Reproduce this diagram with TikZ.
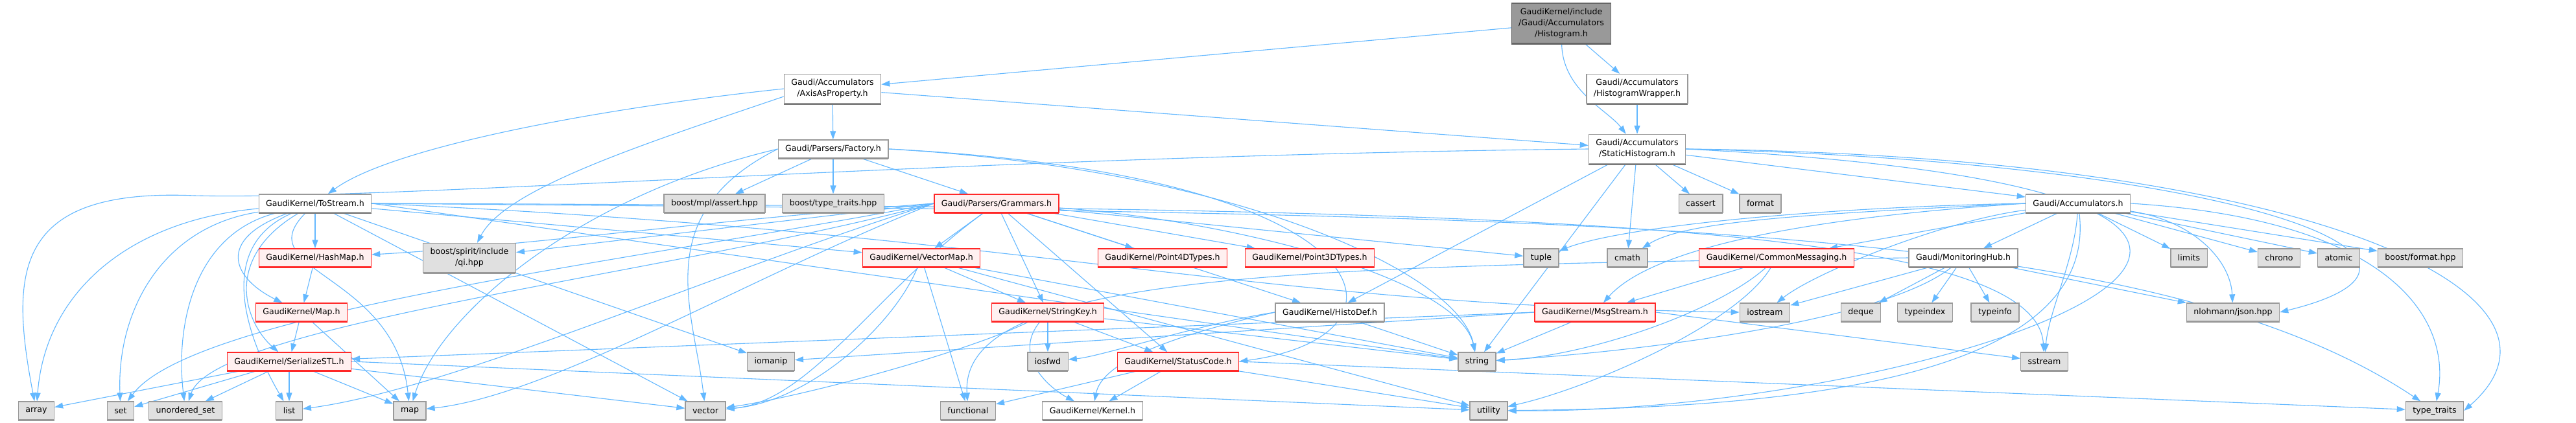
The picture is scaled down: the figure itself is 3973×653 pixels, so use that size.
\documentclass[tikz,border=0pt]{standalone}
\usepackage{fontspec}
\setmainfont{DejaVu Sans}
\usetikzlibrary{arrows.meta,shadows,backgrounds}
\definecolor{edgeblue}{RGB}{99,184,255}
\definecolor{redline}{RGB}{255,40,40}
\definecolor{redfill}{RGB}{255,240,240}
\definecolor{sysfill}{RGB}{224,224,224}
\definecolor{sysline}{RGB}{153,153,153}
\definecolor{docshade}{RGB}{120,120,120}
\definecolor{rootfill}{RGB}{153,153,153}
\definecolor{rootline}{RGB}{102,102,102}
\tikzset{
  hdr/.style={line width=1.3pt, inner xsep=11pt, inner ysep=2pt, minimum height=28pt,
    align=center, font=\fontsize{12.6pt}{17pt}\selectfont},
  doc/.style={hdr, draw=sysline, fill=white,
    drop shadow={shadow xshift=0pt, shadow yshift=-2pt, fill=docshade, opacity=1}},
  trunc/.style={hdr, draw=redline, fill=redfill,
    drop shadow={shadow xshift=0pt, shadow yshift=-2pt, fill=redline, opacity=1}},
  sys/.style={hdr, draw=sysline, fill=sysfill,
    drop shadow={shadow xshift=0pt, shadow yshift=-2pt, fill=sysline, opacity=1}},
  root/.style={hdr, draw=rootline, fill=rootfill,
    drop shadow={shadow xshift=0pt, shadow yshift=-2pt, fill=rootline, opacity=1}},
  two/.style={minimum height=45pt},
  three/.style={minimum height=62pt},
  inc/.style={->, draw=edgeblue, line width=1.1pt}
}
\begin{document}
\begin{tikzpicture}[x=1pt, y=-1pt, >={Triangle[length=13pt,width=9pt]}]
  \useasboundingbox (0,0) rectangle (3973,653);
  % level 0 and 1
  \node[root,three] (hist) at (2408,36) {GaudiKernel/include\\/Gaudi/Accumulators\\/Histogram.h};
  \node[doc,two] (axis) at (1284,137) {Gaudi/Accumulators\\/AxisAsProperty.h};
  \node[doc,two] (wrap) at (2525,137) {Gaudi/Accumulators\\/HistogramWrapper.h};
  \node[doc,two] (stat) at (2525,230) {Gaudi/Accumulators\\/StaticHistogram.h};
  \node[doc] (factory) at (1285,230) {Gaudi/Parsers/Factory.h};
  % level 3
  \node[doc] (tostream) at (486,314) {GaudiKernel/ToStream.h};
  \node[sys] (mplassert) at (1102,314) {boost/mpl/assert.hpp};
  \node[sys] (btypetr) at (1285,314) {boost/type\_traits.hpp};
  \node[trunc] (grammars) at (1537,314) {Gaudi/Parsers/Grammars.h};
  \node[sys] (cassert) at (2623,314) {cassert};
  \node[sys] (format) at (2715,314) {format};
  \node[doc] (accum) at (3205,314) {Gaudi/Accumulators.h};
  % level 4
  \node[trunc] (hashmap) at (486,398) {GaudiKernel/HashMap.h};
  \node[sys,two] (qi) at (724,398) {boost/spirit/include\\/qi.hpp};
  \node[trunc] (vecmap) at (1421,398) {GaudiKernel/VectorMap.h};
  \node[trunc] (p4d) at (1793,398) {GaudiKernel/Point4DTypes.h};
  \node[trunc] (p3d) at (2020,398) {GaudiKernel/Point3DTypes.h};
  \node[sys] (tuple) at (2377,398) {tuple};
  \node[sys] (cmath) at (2510,398) {cmath};
  \node[trunc] (commsg) at (2740,398) {GaudiKernel/CommonMessaging.h};
  \node[doc] (monhub) at (3028,398) {Gaudi/MonitoringHub.h};
  \node[sys] (limits) at (3376,398) {limits};
  \node[sys] (chrono) at (3515,398) {chrono};
  \node[sys] (atomic) at (3607,398) {atomic};
  \node[sys] (bformat) at (3733,398) {boost/format.hpp};
  % level 5
  \node[trunc] (mapH) at (465,482) {GaudiKernel/Map.h};
  \node[trunc] (strkey) at (1616,482) {GaudiKernel/StringKey.h};
  \node[doc] (histodef) at (2051,482) {GaudiKernel/HistoDef.h};
  \node[trunc] (msgstream) at (2460,482) {GaudiKernel/MsgStream.h};
  \node[sys] (iostream) at (2722,482) {iostream};
  \node[sys] (deque) at (2870,482) {deque};
  \node[sys] (typeindex) at (2969,482) {typeindex};
  \node[sys] (typeinfo) at (3077,482) {typeinfo};
  \node[sys] (json) at (3444,482) {nlohmann/json.hpp};
  % level 6
  \node[trunc] (serial) at (446,558) {GaudiKernel/SerializeSTL.h};
  \node[sys] (iomanip) at (1189,558) {iomanip};
  \node[sys] (iosfwd) at (1616,558) {iosfwd};
  \node[trunc] (statuscode) at (1817,558) {GaudiKernel/StatusCode.h};
  \node[sys] (string) at (2278,558) {string};
  \node[sys] (sstream) at (3153,558) {sstream};
  % level 7
  \node[sys] (array) at (56,634) {array};
  \node[sys] (set) at (186,634) {set};
  \node[sys] (uset) at (286,634) {unordered\_set};
  \node[sys] (list) at (446,634) {list};
  \node[sys] (map) at (632,634) {map};
  \node[sys] (vector) at (1088,634) {vector};
  \node[sys] (functional) at (1493,634) {functional};
  \node[doc] (kernel) at (1685,634) {GaudiKernel/Kernel.h};
  \node[sys] (utility) at (2296,634) {utility};
  \node[sys] (typetraits) at (3755,634) {type\_traits};

  \begin{pgfonlayer}{background}
    \fill[white] (0,0) rectangle (3973,653);
    % Histogram.h
    \draw[inc] (hist) -- (axis);
    \draw[inc] (hist) -- (wrap);
    \draw[inc] (hist) .. controls (2410,140) and (2480,170) .. (stat);
    \draw[inc] (wrap) -- (stat);
    % AxisAsProperty.h
    \draw[inc] (axis) -- (stat);
    \draw[inc] (axis) -- (factory);
    \draw[inc] (axis.west) .. controls (900,170) and (600,230) .. (tostream);
    \draw[inc] ([yshift=-12pt]axis.west) .. controls (1000,220) and (780,290) .. (qi);
    % Factory.h
    \draw[inc] (factory) -- (mplassert);
    \draw[inc] (factory) -- (btypetr);
    \draw[inc] (factory) -- (grammars);
    \draw[inc] (factory.east) .. controls (2150,270) and (2200,520) .. (statuscode.east);
    \draw[inc] (factory.east) .. controls (1900,260) and (2250,420) .. (string);
    \draw[inc] (factory.west) .. controls (900,300) and (680,480) .. (map);
    \draw[inc] (factory.west) .. controls (1000,330) and (1070,480) .. (vector);
    % ToStream.h
    \draw[inc] (tostream) -- (hashmap);
    \draw[inc] (tostream) .. controls (330,370) and (360,430) .. (mapH);
    \draw[inc] (tostream) .. controls (340,400) and (380,500) .. (serial);
    \draw[inc] (tostream) .. controls (200,340) and (70,450) .. (array);
    \draw[inc] (tostream) .. controls (250,350) and (180,480) .. (set);
    \draw[inc] (tostream) .. controls (300,360) and (270,500) .. (uset);
    \draw[inc] (tostream) .. controls (330,380) and (380,520) .. (list);
    \draw[inc] (tostream) .. controls (380,420) and (610,420) .. (map);
    \draw[inc] (tostream) -- (vector);
    \draw[inc] (tostream) -- (iomanip);
    \draw[inc] (tostream) -- (vecmap);
    \draw[inc] (tostream.east) -- (string);
    \draw[inc] (tostream.east) .. controls (1600,360) and (1900,470) .. (iostream.west);
    \draw[inc] (tostream.east) .. controls (2200,320) and (3140,330) .. (sstream);
    \draw[inc] (tostream.east) .. controls (2400,330) and (3300,330) .. (typetraits);
    % Grammars.h
    \draw[inc] (grammars) -- (vecmap);
    \draw[inc] (grammars) -- (strkey);
    \draw[inc] (grammars) -- (statuscode);
    \draw[inc] (grammars) -- (p4d);
    \draw[inc] (grammars) -- (p3d);
    \draw[inc] (grammars) -- (tuple);
    \draw[inc] (grammars) -- (histodef);
    \draw[inc] (grammars.west) .. controls (1100,340) and (800,380) .. (hashmap);
    \draw[inc] (grammars.west) -- (qi);
    \draw[inc] (grammars.west) .. controls (1000,400) and (300,480) .. (set);
    \draw[inc] (grammars.west) .. controls (1050,420) and (330,500) .. (uset);
    \draw[inc] (grammars.west) .. controls (1100,420) and (700,600) .. (list);
    \draw[inc] (grammars.west) .. controls (1150,430) and (850,610) .. (map);
    \draw[inc] (grammars) .. controls (1350,450) and (1250,620) .. (vector);
    \draw[inc] (grammars) .. controls (1900,340) and (2250,430) .. (string);
    % HashMap.h, Map.h, SerializeSTL.h
    \draw[inc] (hashmap) -- (mapH);
    \draw[inc] (mapH) -- (serial);
    \draw[inc] (mapH) -- (map);
    \draw[inc] (serial) -- (array);
    \draw[inc] (serial) -- (set);
    \draw[inc] (serial) -- (uset);
    \draw[inc] (serial) -- (list);
    \draw[inc] (serial) -- (map);
    \draw[inc] (serial) -- (vector);
    \draw[inc] (serial.east) -- (utility);
    % VectorMap.h, StringKey.h
    \draw[inc] (vecmap) -- (strkey);
    \draw[inc] (vecmap) -- (functional);
    \draw[inc] (vecmap) .. controls (1380,500) and (1250,620) .. (vector);
    \draw[inc] (vecmap) -- (string);
    \draw[inc] (vecmap) -- (utility);
    \draw[inc] (strkey) -- (iosfwd);
    \draw[inc] (strkey) -- (statuscode);
    \draw[inc] (strkey) .. controls (1560,550) and (1620,600) .. (kernel);
    \draw[inc] (strkey) -- (string);
    \draw[inc] (strkey) .. controls (1500,540) and (1250,610) .. (vector);
    % StatusCode.h, HistoDef.h
    \draw[inc] (statuscode) -- (functional);
    \draw[inc] (statuscode) -- (kernel);
    \draw[inc] (statuscode) -- (utility);
    \draw[inc] (statuscode.east) -- (typetraits);
    \draw[inc] (histodef.west) .. controls (1850,500) and (1700,550) .. (iosfwd);
    \draw[inc] (histodef) -- (string);
    \draw[inc] (histodef.west) .. controls (1800,520) and (1700,560) .. (kernel);
    % MsgStream.h, CommonMessaging.h
    \draw[inc] (msgstream.west) -- (serial);
    \draw[inc] (msgstream.west) -- (iomanip);
    \draw[inc] (msgstream) -- (string);
    \draw[inc] (msgstream.east) -- (sstream);
    \draw[inc] (commsg) -- (msgstream);
    \draw[inc] (commsg) .. controls (2650,480) and (2450,550) .. (string);
    \draw[inc] (commsg) .. controls (2680,500) and (2450,600) .. (utility);
    % MonitoringHub.h
    \draw[inc] (monhub) -- (iostream);
    \draw[inc] (monhub) -- (deque);
    \draw[inc] (monhub) -- (typeindex);
    \draw[inc] (monhub) -- (typeinfo);
    \draw[inc] (monhub) -- (json);
    \draw[inc] (monhub.west) .. controls (2000,410) and (1480,420) .. (functional);
    \draw[inc] (monhub) .. controls (2900,500) and (2500,545) .. (string);
    % Accumulators.h
    \draw[inc] (accum) -- (commsg);
    \draw[inc] (accum) -- (monhub);
    \draw[inc] (accum) -- (limits);
    \draw[inc] (accum) -- (chrono);
    \draw[inc] (accum) -- (atomic);
    \draw[inc] (accum) -- (bformat);
    \draw[inc] (accum) .. controls (3380,340) and (3440,400) .. (json);
    \draw[inc] (accum) .. controls (3000,340) and (2800,420) .. (iostream);
    \draw[inc] (accum) .. controls (3200,400) and (3160,480) .. (sstream);
    \draw[inc] (accum.east) .. controls (3700,340) and (3780,500) .. (typetraits);
    \draw[inc] (accum) .. controls (3240,600) and (2700,630) .. (utility);
    \draw[inc] (accum.west) .. controls (2800,320) and (2500,350) .. (tuple);
    \draw[inc] (accum.west) .. controls (2800,330) and (2600,340) .. (cmath);
    \draw[inc] (accum.west) .. controls (2800,335) and (2550,380) .. (msgstream);
    % StaticHistogram.h
    \draw[inc] (stat) -- (accum);
    \draw[inc] (stat) -- (histodef);
    \draw[inc] (stat) -- (cassert);
    \draw[inc] (stat) -- (format);
    \draw[inc] (stat) -- (cmath);
    \draw[inc] (stat) -- (string);
    \draw[inc] (stat.west) .. controls (1500,240) and (600,310) .. (300,302)
      .. controls (20,290) and (15,420) .. (array);
    \draw[inc] (stat.east) .. controls (3450,250) and (3850,400) .. (json.east);
    \draw[inc] (stat.east) .. controls (3550,240) and (4010,450) .. (typetraits.east);
    \draw[inc] (stat.east) .. controls (3950,300) and (3000,640) .. (utility.east);
  \end{pgfonlayer}
\end{tikzpicture}
\end{document}
